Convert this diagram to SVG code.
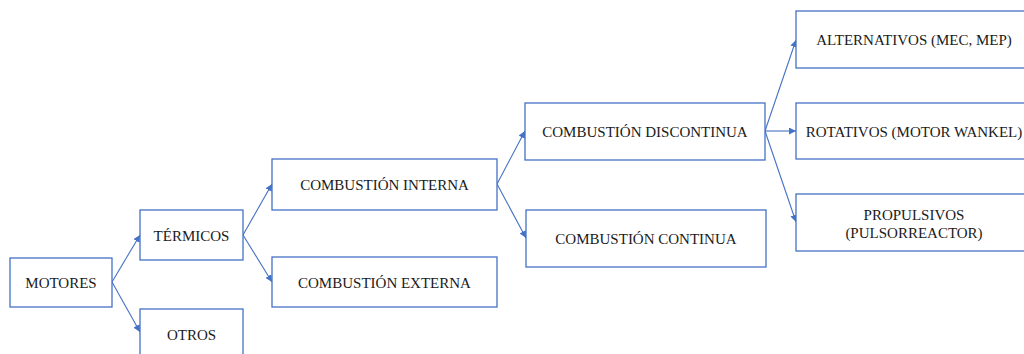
<svg xmlns="http://www.w3.org/2000/svg" width="1024" height="354" viewBox="0 0 1024 354">
<defs>
<style>
.box{fill:#fff;stroke:#4472C4;stroke-width:1.3}
.t{font-size:15px;fill:#1a1a1a;text-anchor:middle}
.c{stroke:#4472C4;stroke-width:1.1;fill:none;marker-end:url(#ah)}
</style>
<marker id="ah" viewBox="0 0 10 10" refX="10" refY="5" markerWidth="7" markerHeight="7" markerUnits="userSpaceOnUse" orient="auto">
<path d="M0,0 L10,5 L0,10 z" fill="#4472C4"/>
</marker>
</defs>
<rect width="1024" height="354" fill="#fff"/>
<g id="connectors">
<line class="c" x1="112" y1="282" x2="140" y2="235"/>
<line class="c" x1="112" y1="282" x2="140" y2="332"/>
<line class="c" x1="243" y1="235" x2="272" y2="184"/>
<line class="c" x1="243" y1="235" x2="272" y2="282"/>
<line class="c" x1="497" y1="184" x2="525" y2="131"/>
<line class="c" x1="497" y1="184" x2="526" y2="238"/>
<line class="c" x1="765" y1="131" x2="796" y2="40"/>
<line class="c" x1="765" y1="131" x2="796" y2="131"/>
<line class="c" x1="765" y1="131" x2="796" y2="222"/>
</g>
<g font-family="Liberation Serif, Tinos, Noto Serif, DejaVu Serif, Times New Roman, serif">
<g id="motores"><rect class="box" x="10" y="258" width="102" height="49"/><text class="t" x="61" y="288">MOTORES</text></g>
<g id="termicos"><rect class="box" x="140" y="210" width="103" height="50"/><text class="t" x="191.5" y="240.5">TÉRMICOS</text></g>
<g id="otros"><rect class="box" x="140" y="309" width="103" height="50"/><text class="t" x="191.5" y="339.5">OTROS</text></g>
<g id="interna"><rect class="box" x="272" y="159" width="225" height="51"/><text class="t" x="384.5" y="190">COMBUSTIÓN INTERNA</text></g>
<g id="externa"><rect class="box" x="272" y="257" width="225" height="50"/><text class="t" x="384.5" y="287.5">COMBUSTIÓN EXTERNA</text></g>
<g id="discontinua"><rect class="box" x="525" y="103" width="240" height="57"/><text class="t" x="645" y="137">COMBUSTIÓN DISCONTINUA</text></g>
<g id="continua"><rect class="box" x="526" y="210" width="240" height="57"/><text class="t" x="646" y="244">COMBUSTIÓN CONTINUA</text></g>
<g id="alternativos"><rect class="box" x="796" y="11" width="236" height="57"/><text class="t" x="914" y="45">ALTERNATIVOS (MEC, MEP)</text></g>
<g id="rotativos"><rect class="box" x="796" y="103" width="236" height="56"/><text class="t" x="914" y="136.5">ROTATIVOS (MOTOR WANKEL)</text></g>
<g id="propulsivos"><rect class="box" x="796" y="194" width="236" height="57"/><text class="t" x="914" y="219.5">PROPULSIVOS</text><text class="t" x="914" y="237.5">(PULSORREACTOR)</text></g>
</g>
</svg>
